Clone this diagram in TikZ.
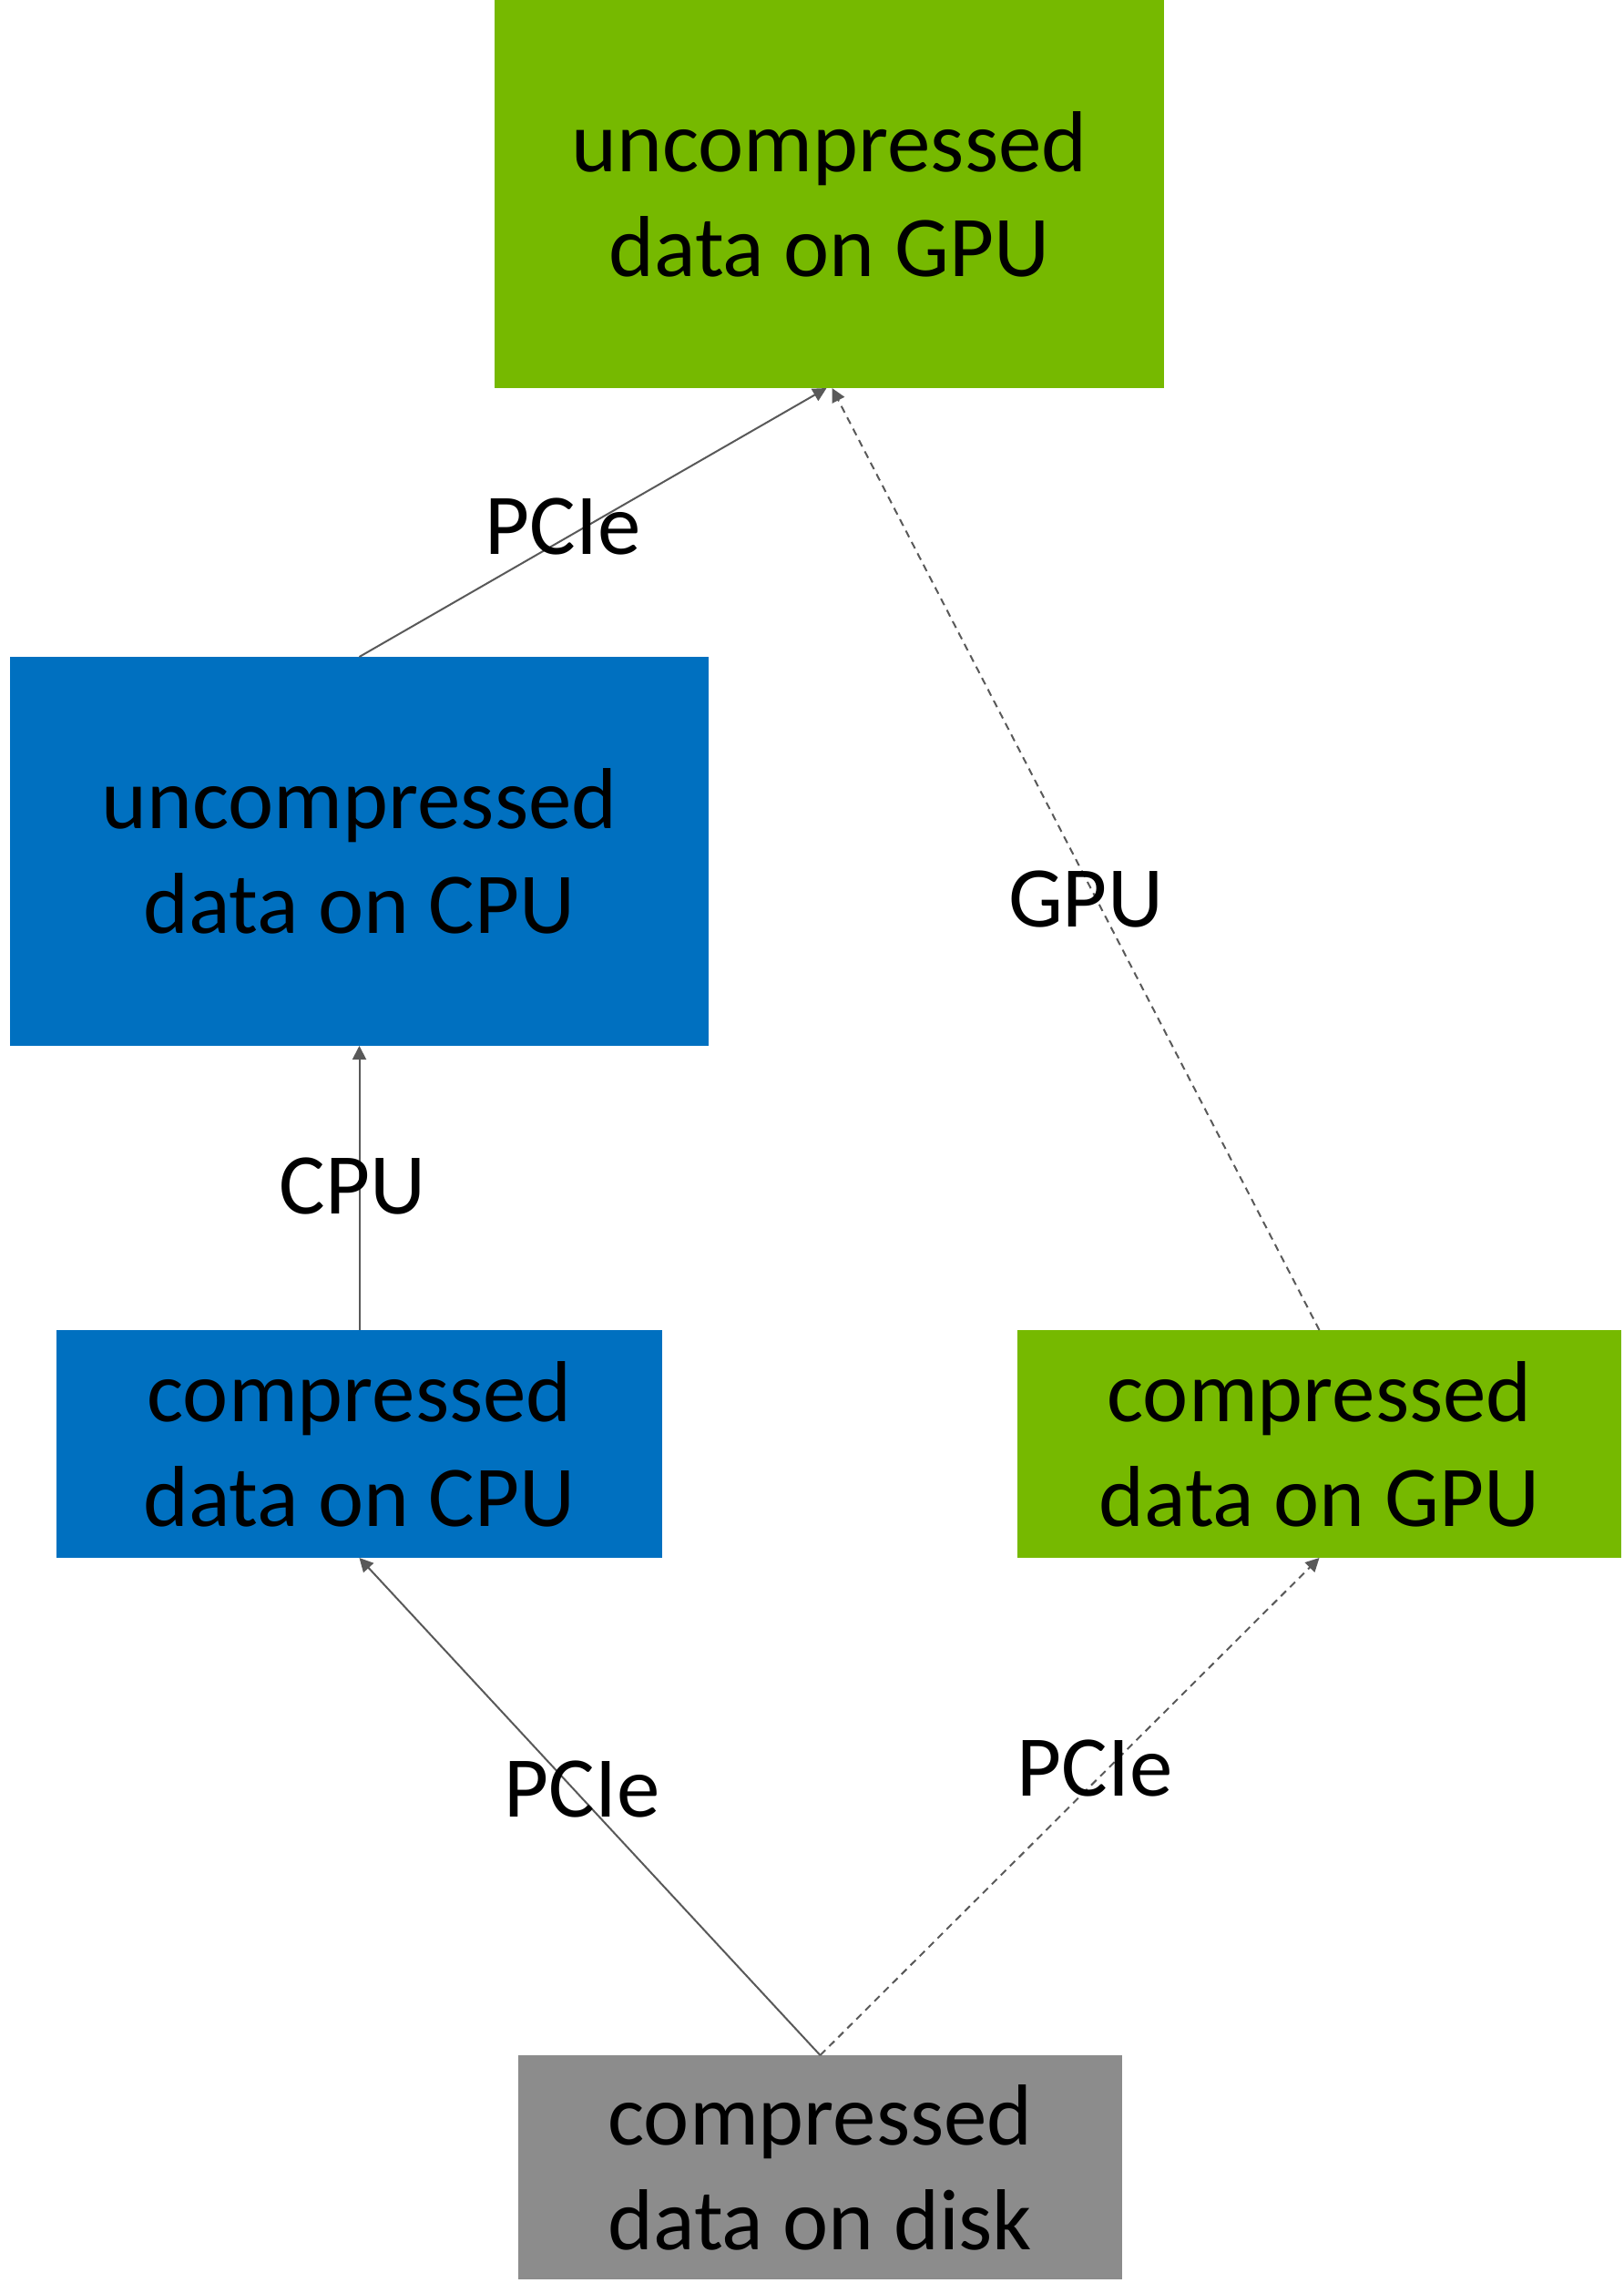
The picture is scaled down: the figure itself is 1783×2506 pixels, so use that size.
\documentclass[tikz,border=0pt]{standalone}
\usepackage{fontspec}
\setmainfont{Carlito}
\usetikzlibrary{arrows.meta}
\definecolor{gpugreen}{RGB}{118,185,0}
\definecolor{cpublue}{RGB}{0,112,192}
\definecolor{diskgray}{RGB}{140,140,140}
\definecolor{linkgray}{RGB}{89,89,89}
\begin{document}
\begin{tikzpicture}[x=0.5pt,y=-0.5pt,
  box/.style={draw=none, inner sep=0pt, outer sep=0pt, align=center,
    font=\fontsize{47.5}{57.5}\selectfont},
  lbl/.style={inner sep=0pt, font=\fontsize{47.5}{57.5}\selectfont},
  link/.style={draw=linkgray, line width=1pt,
    -{Triangle[length=7.5pt,width=7.5pt]}},
  gpulink/.style={link, dash pattern=on 4pt off 3pt}]
\useasboundingbox (0,0) rectangle (1783,2506);

% storage stages
\node[box, fill=gpugreen, minimum width=367.5pt, minimum height=213pt]
  (ugpu) at (910.5,213) {uncompressed\\data on GPU};
\node[box, fill=cpublue, minimum width=383.5pt, minimum height=213.5pt]
  (ucpu) at (394.5,934.5) {uncompressed\\data on CPU};
\node[box, fill=cpublue, minimum width=332.5pt, minimum height=125pt]
  (ccpu) at (394.5,1585) {compressed\\data on CPU};
\node[box, fill=gpugreen, minimum width=331.5pt, minimum height=125pt]
  (cgpu) at (1448.5,1585) {compressed\\data on GPU};
\node[box, fill=diskgray, minimum width=331.5pt, minimum height=123pt]
  (disk) at (900.5,2379) {compressed\\data on disk};

% transfers and decompression
\coordinate (ugpuin) at ([xshift=-1.5pt]ugpu.south);
\coordinate (ugpuin2) at ([xshift=1.5pt]ugpu.south);
\draw[link] (disk.north) -- (ccpu.south);
\draw[gpulink] (disk.north) -- (cgpu.south);
\draw[link] (ccpu.north) -- (ucpu.south);
\draw[link] (ucpu.north) -- (ugpuin);
\draw[gpulink] (cgpu.north) -- (ugpuin2);

% link labels
\node[lbl] (l1) at (618,578) {PCIe};
\node[lbl] (l2) at (1192,987) {GPU};
\node[lbl] (l3) at (387,1302) {CPU};
\node[lbl] (l4) at (639,1964) {PCIe};
\node[lbl] (l5) at (1202,1941) {PCIe};
\end{tikzpicture}
\end{document}
